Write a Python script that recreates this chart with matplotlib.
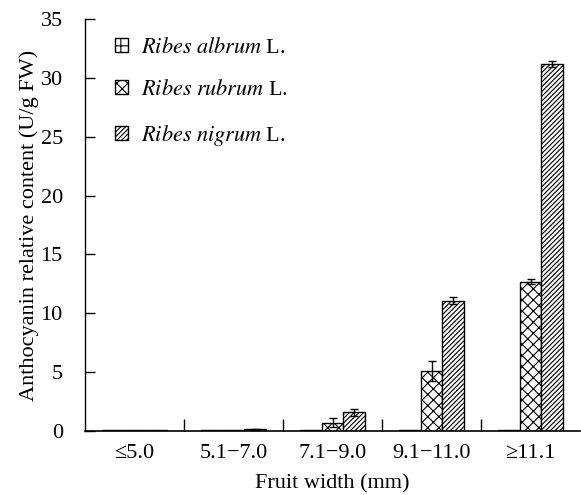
import numpy as np
import matplotlib
matplotlib.use('Agg')
import matplotlib.pyplot as plt
from matplotlib.patches import Patch

plt.rcParams['font.family'] = ['Liberation Serif', 'DejaVu Serif']
plt.rcParams['mathtext.fontset'] = 'stix'
plt.rcParams['hatch.linewidth'] = 0.8

# data
categories = ['≤5.0', '5.1−7.0', '7.1−9.0', '9.1−11.0', '≥11.1']
species = [r'$\mathit{Ribes\ albrum}$ L.', r'$\mathit{Ribes\ rubrum}$ L.', r'$\mathit{Ribes\ nigrum}$ L.']
albrum = [0.05, 0.05, 0.05, 0.05, 0.05]
rubrum = [0.05, 0.05, 0.7, 5.1, 12.7]
nigrum = [0.05, 0.15, 1.6, 11.05, 31.2]
albrum_err = [0, 0, 0, 0, 0]
rubrum_err = [0, 0, 0.4, 0.85, 0.25]
nigrum_err = [0, 0.05, 0.3, 0.3, 0.25]

values = [albrum, rubrum, nigrum]
errors = [albrum_err, rubrum_err, nigrum_err]
hatches = ['++', 'xxx', '///////']

fs = 16
fig = plt.figure(figsize=(5.81, 4.95), dpi=100)
ax = fig.add_axes([85/581, 64/495, 495/581, 412/495])

x = np.arange(len(categories))
w = 0.22
for i in range(3):
    xs = x + (i - 1) * w
    ax.bar(xs, values[i], w, color='white', edgecolor='black', linewidth=1.0,
           hatch=hatches[i], label=species[i])
    errs = np.array(errors[i])
    m = errs > 0
    if m.any():
        ax.errorbar(xs[m], np.array(values[i])[m], yerr=errs[m], fmt='none',
                    ecolor='black', elinewidth=1.0, capsize=3, capthick=1.0)

ax.set_xlim(-0.5, 4.5)
ax.set_ylim(0, 35)
ax.set_yticks(np.arange(0, 36, 5))
ax.set_xticks(x)
ax.set_xticklabels(categories)
ax.set_xticks(np.arange(0.5, 4.5, 1), minor=True)
ax.tick_params(axis='x', which='major', length=0, pad=9, labelsize=fs)
ax.tick_params(axis='x', which='minor', direction='in', length=9, width=1)
ax.tick_params(axis='y', direction='in', length=7, width=1, pad=16, labelsize=fs)
for s in ['top', 'right']:
    ax.spines[s].set_visible(False)
ax.spines['left'].set_linewidth(1)
ax.spines['bottom'].set_linewidth(1.2)

ax.set_xlabel('Fruit width (mm)', fontsize=fs, labelpad=8.5)
ax.set_ylabel('Anthocyanin relative content (U/g FW)', fontsize=fs, labelpad=1)

handles = [Patch(facecolor='white', edgecolor='black', hatch=hatches[i], linewidth=1.0)
           for i in range(3)]
ax.legend(handles, species, loc='upper left', bbox_to_anchor=(0.06, 0.955),
          frameon=False, fontsize=fs, handlelength=0.6, handleheight=0.6,
          handletextpad=0.6, labelspacing=1.02, borderpad=0, borderaxespad=0)

fig.savefig('out.png', dpi=100)
